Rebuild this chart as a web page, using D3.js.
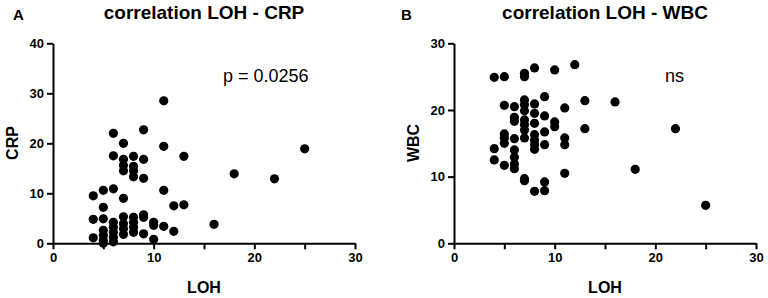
<!DOCTYPE html>
<html>
<head>
<meta charset="utf-8">
<script src="https://cdn.jsdelivr.net/npm/d3@7"></script>
<style>
  body { margin: 0; background: #fff; }
  svg text { font-family: "Liberation Sans", Arial, sans-serif; fill: #000; }
</style>
</head>
<body>
<div class="canvas"></div>
<script>
// panel A data: LOH vs CRP
const lohA = [4, 4, 4, 5, 5, 5, 5, 5, 5, 5, 6, 6, 6, 6, 6, 6, 6, 6,
  7, 7, 7, 7, 7, 7, 7, 7, 7, 8, 8, 8, 8, 8, 8, 8, 8, 9, 9, 9, 9, 9, 9,
  10, 10, 10, 11, 11, 11, 11, 12, 12, 13, 13, 16, 18, 22, 25];
const crp = [9.5, 4.8, 1.1, 10.6, 7.2, 4.9, 2.6, 1.6, 0.6, 0, 22, 17.5, 10.9, 4.2, 3.2, 2.2, 1.2, 0.3,
  20, 16.8, 15.6, 14.5, 9.0, 5.3, 3.9, 2.9, 1.8, 17.4, 15.4, 14.5, 13.3, 5.2, 4.2, 3.2, 2.2,
  22.7, 16.8, 13.0, 5.7, 5.2, 1.9, 4.2, 3.6, 0.8, 28.5, 19.4, 10.6, 3.4, 7.5, 2.4, 17.4, 7.7,
  3.8, 13.9, 12.9, 18.9];

// panel B data: LOH vs WBC
const lohB = [4, 4, 4, 5, 5, 5, 5, 5, 5, 6, 6, 6, 6, 6, 6, 6, 6,
  7, 7, 7, 7, 7, 7, 7, 7, 7, 7, 7, 8, 8, 8, 8, 8, 8, 8, 8, 8, 9, 9, 9, 9, 9, 9,
  10, 10, 10, 11, 11, 11, 11, 12, 13, 13, 16, 18, 22, 25];
const wbc = [24.9, 14.2, 12.5, 25, 20.7, 16.4, 15.8, 15.0, 11.7, 20.5, 18.9, 18.3, 15.7, 14.0, 12.9, 11.9, 11.2,
  25.5, 25, 21.5, 20.8, 19.9, 18.5, 17.8, 17.0, 15.8, 9.7, 9.4, 26.3, 20.9, 19.5, 18.0, 16.3, 15.5, 14.8, 14.1, 7.8,
  22.0, 19.1, 16.7, 14.8, 9.2, 7.9, 26.0, 18.2, 17.5, 20.3, 15.8, 14.8, 10.5, 26.8, 21.4, 17.2,
  21.2, 11.1, 17.2, 5.7];

// axis ticks
const xTicks = [0, 5, 10, 15, 20, 25, 30];
const crpTicks = [0, 10, 20, 30, 40];
const wbcTicks = [0, 10, 20, 30];

const svg = d3.select('.canvas')
  .append('svg')
  .attr('width', 768)
  .attr('height', 298);

const drawPanel = (p) => {
  const x = d3.scaleLinear().domain([0, 30]).range([p.x0, p.x0 + 302]);
  const y = d3.scaleLinear().domain([0, p.yMax]).range([243.3, 43.3]);

  const g = svg.append('g');

  // x axis, minor ticks every 5, labels every 10
  const xAxis = g.append('g')
    .attr('transform', 'translate(0, 243.3)')
    .call(d3.axisBottom(x)
      .tickValues(xTicks)
      .tickFormat(d => d % 10 === 0 ? d : '')
      .tickSize(6)
      .tickSizeOuter(0)
      .tickPadding(3));

  const yAxis = g.append('g')
    .attr('transform', `translate(${p.x0}, 0)`)
    .call(d3.axisLeft(y)
      .tickValues(p.yTicks)
      .tickSize(6)
      .tickSizeOuter(0)
      .tickPadding(3));

  [xAxis, yAxis].forEach(a => {
    a.selectAll('path, line').attr('stroke', '#000').attr('stroke-width', 2);
    a.selectAll('text')
      .attr('font-size', 13)
      .attr('font-weight', 'bold')
      .attr('font-family', '"Liberation Sans", Arial, sans-serif');
  });

  // points
  g.selectAll('circle')
    .data(p.xs.map((d, i) => [d, p.ys[i]]))
    .enter()
    .append('circle')
      .attr('cx', d => x(d[0]))
      .attr('cy', d => y(d[1]))
      .attr('r', 4.6)
      .attr('fill', '#000');

  // panel letter
  g.append('text')
    .attr('x', p.letterX)
    .attr('y', 20)
    .attr('font-size', 15)
    .attr('font-weight', 'bold')
    .text(p.letter);

  // title
  g.append('text')
    .attr('x', p.x0 + 151)
    .attr('y', 19)
    .attr('text-anchor', 'middle')
    .attr('font-size', 19)
    .attr('font-weight', 'bold')
    .text(p.title);

  // axis labels
  g.append('text')
    .attr('transform', `translate(${p.x0 - 35}, 143) rotate(-90)`)
    .attr('text-anchor', 'middle')
    .attr('font-size', 16)
    .attr('font-weight', 'bold')
    .text(p.yLabel);

  g.append('text')
    .attr('x', p.x0 + 151)
    .attr('y', 293)
    .attr('text-anchor', 'middle')
    .attr('font-size', 16)
    .attr('font-weight', 'bold')
    .text('LOH');

  // stats note
  g.append('text')
    .attr('x', p.noteX)
    .attr('y', 82)
    .attr('font-size', 18)
    .text(p.note);
};

drawPanel({ x0: 53, letterX: 13, letter: 'A', title: 'correlation LOH - CRP', yLabel: 'CRP',
  yMax: 40, yTicks: crpTicks, xs: lohA, ys: crp, note: 'p = 0.0256', noteX: 223 });

drawPanel({ x0: 454, letterX: 401, letter: 'B', title: 'correlation LOH - WBC', yLabel: 'WBC',
  yMax: 30, yTicks: wbcTicks, xs: lohB, ys: wbc, note: 'ns', noteX: 665 });
</script>
</body>
</html>
